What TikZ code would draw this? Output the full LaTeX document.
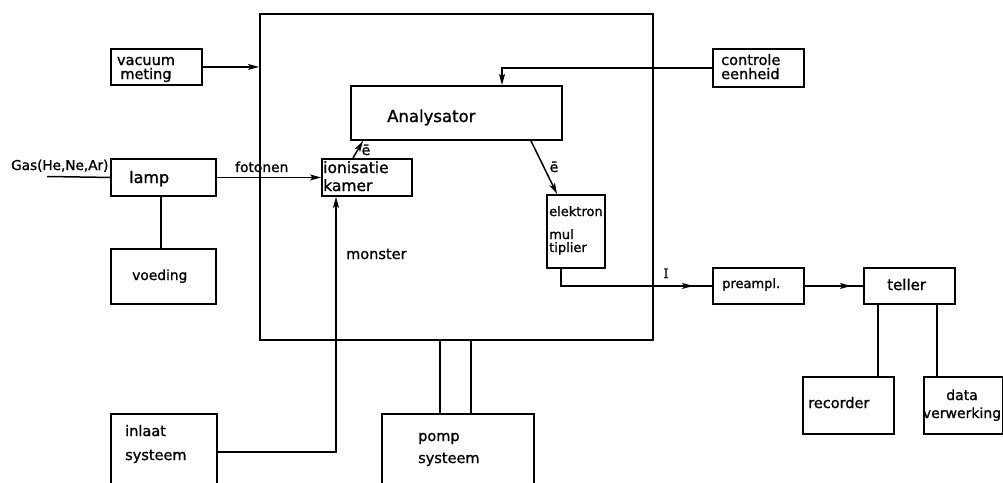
\documentclass[tikz,border=0pt]{standalone}
\usepackage{fontspec}
\setmainfont{DejaVu Sans}[FakeBold=1.2]
\newfontfamily\serifI{DejaVu Serif}[FakeBold=1.2]
\usetikzlibrary{arrows.meta,calc,decorations.markings}
\newcommand{\stackL}[2][14]{\vtop{\baselineskip=#1pt\lineskiplimit=-20pt\halign{##\hfil\cr#2\crcr}}}
\newcommand{\stackC}[2][14]{\vtop{\baselineskip=#1pt\lineskiplimit=-20pt\halign{\hfil##\hfil\cr#2\crcr}}}
\begin{document}
\begin{tikzpicture}[x=1pt,y=-1pt,
  >={Stealth[length=11pt,width=6pt,inset=2.5pt]},
  box/.style={draw, line width=1.9pt, inner sep=0pt, anchor=north west},
  conn/.style={line width=1.5pt},
  midarr/.style={postaction={decorate},decoration={markings,mark=at position #1 with {\arrow{>}}}},
  txt/.style={inner sep=0pt, font=\fontsize{14.5}{14}\selectfont}]
\useasboundingbox (0,0) rectangle (1003,482);
\clip (0,0) rectangle (1003,482);
% boxes
\node[box, minimum width=393, minimum height=326] (big) at (259,13) {};
\node[box, minimum width=91, minimum height=36] (vac) at (110,48) {};
\node[box, minimum width=91, minimum height=38] (ctrl) at (712,48) {};
\node[box, minimum width=211, minimum height=54] (ana) at (350,85) {};
\node[box, minimum width=90, minimum height=37] (ion) at (321,158) {};
\node[box, minimum width=105, minimum height=37] (lamp) at (110,158) {};
\node[box, minimum width=58, minimum height=73] (elek) at (546,194) {};
\node[box, minimum width=105, minimum height=55] (voed) at (110,248) {};
\node[box, minimum width=91, minimum height=36] (pre) at (712,267) {};
\node[box, minimum width=91, minimum height=36] (tel) at (863,267) {};
\node[box, minimum width=91, minimum height=57] (rec) at (802,376) {};
\node[box, minimum width=79, minimum height=57] (data) at (923,376) {};
\node[box, minimum width=106, minimum height=76] (inl) at (110,413) {};
\node[box, minimum width=152, minimum height=80] (pomp) at (381,413) {};
% texts
\node[txt, anchor=base] (tvac) at (146,65) {\stackC{vacuum\cr meting}};
\node[txt, anchor=base west] (tctrl) at (721,65) {\stackL{controle\cr eenheid}};
\node[txt, anchor=base west, font=\fontsize{16.5}{16}\selectfont] (tana) at (387,122) {Analysator};
\node[txt, anchor=base west, font=\fontsize{15.5}{16}\selectfont] (tion) at (323,173) {\stackL[18]{ionisatie\cr kamer}};
\node[txt, anchor=base west, font=\fontsize{13}{13}\selectfont] (telek) at (549,216) {\stackL[13]{elektron\cr\noalign{\vskip10pt}mul\cr tiplier}};
\node[txt, anchor=base west, font=\fontsize{16}{16}\selectfont] (tlamp) at (129,183) {lamp};
\node[txt, anchor=base west, font=\fontsize{13.8}{14}\selectfont] (tfot) at (235,172) {fotonen};
\node[txt, anchor=base west, font=\fontsize{13.6}{14}\selectfont] (tgas) at (11,170) {Gas(He,Ne,Ar)};
\node[txt, anchor=base west, font=\fontsize{13.8}{14}\selectfont] (tvoed) at (132,280) {voeding};
\node[txt, anchor=base west] (tmon) at (346,259) {monster};
\node[txt, anchor=base, font={\serifI\fontsize{13}{13}\selectfont}] (tI) at (666,278) {I};
\node[txt, anchor=base west, font=\fontsize{13}{13}\selectfont] (tpre) at (722,288) {preampl.};
\node[txt, anchor=base west, font=\fontsize{15}{15}\selectfont] (ttel) at (887,290) {teller};
\node[txt, anchor=base west] (trec) at (808,408) {recorder};
\node[txt, anchor=base, font=\fontsize{14}{14}\selectfont] (tdata) at (962,400) {\stackC[18]{data\cr verwerking}};
\node[txt, anchor=base west] (tinl) at (125,436) {\stackL[24]{inlaat\cr systeem}};
\node[txt, anchor=base west] (tpomp) at (418,441) {\stackL[22]{pomp\cr systeem}};
\node[txt, anchor=base, font=\fontsize{14}{14}\selectfont] (te1) at (366,155) {ē};
\node[txt, anchor=base, font=\fontsize{14}{14}\selectfont] (te2) at (554,172) {ē};
% connectors
\coordinate (gasend) at (47,176.5);
\draw[conn] (gasend) -- (lamp.west);
\draw[conn,->] (vac.east) -- (vac.east -| big.west);
\draw[conn,->] (lamp.east) -- (ion.west);
\coordinate (lv) at ($(lamp.south west)+(51,0)$);
\draw[conn] (lv) -- (lv |- voed.north);
\draw[conn,->] ($(ion.north west)+(32,0)$) -- ($(ana.south west)+(13,0)$);
\draw[conn,->] ($(ana.south west)+(181,0)$) -- ($(elek.north west)+(11,0)$);
\draw[conn,->] (ctrl.west) -| ($(ana.north west)+(152,0)$);
\draw[conn,midarr=-19pt] ($(elek.south west)+(15,0)$) |- (pre.west);
\draw[conn,midarr=-12pt] (pre.east) -- (tel.west);
\coordinate (tr) at ($(tel.south west)+(15,0)$);
\draw[conn] (tr) -- (tr |- rec.north);
\coordinate (td) at ($(tel.south west)+(74,0)$);
\draw[conn] (td) -- (td |- data.north);
\draw[conn,->] (inl.east) -| ($(ion.south west)+(15,0)$);
\coordinate (p1) at ($(big.south west)+(181,0)$);
\coordinate (p2) at ($(big.south west)+(212,0)$);
\draw[conn] (p1) -- (p1 |- pomp.north);
\draw[conn] (p2) -- (p2 |- pomp.north);
\end{tikzpicture}
\end{document}
